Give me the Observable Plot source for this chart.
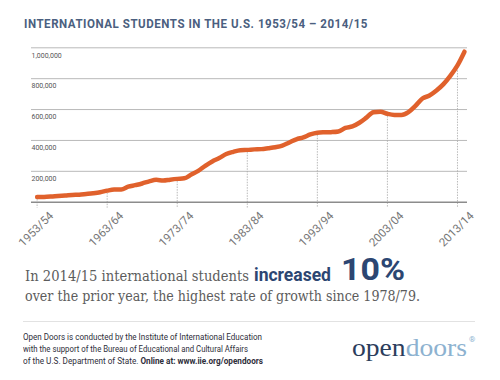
<!DOCTYPE html>
<html>
<head>
<meta charset="utf-8">
<script src="https://cdn.jsdelivr.net/npm/d3@7"></script>
<script src="https://cdn.jsdelivr.net/npm/@observablehq/plot@0.6"></script>
<style>
  html, body { margin: 0; padding: 0; background: #fff; }
  #page { position: relative; width: 500px; height: 380px; overflow: hidden; background: #fff; }
  .t { position: absolute; white-space: nowrap; transform-origin: 0 0; margin: 0; }
  #chart { position: absolute; left: 0; top: 30px; }
</style>
</head>
<body>
<div id="page">
  <div class="t" id="title" data-w="344" style="left:24px; top:17.4px; font:700 13px/13px Roboto, sans-serif; color:#4b5f80; letter-spacing:0.6px;">INTERNATIONAL STUDENTS IN THE U.S. 1953/54 – 2014/15</div>
  <div id="chart"></div>
  <div class="t" data-w="224" style="left:25px; top:269.4px; font:400 15px/15px 'DejaVu Serif', serif; color:#5c5c5c;">In 2014/15 international students</div>
  <div class="t" data-w="77" style="left:254px; top:266.4px; font:700 18px/18px Roboto, sans-serif; color:#2c4672;">increased</div>
  <div class="t" data-w="64" style="left:341px; top:253.1px; font:700 32px/32px Roboto, sans-serif; color:#2c4672;">10%</div>
  <div class="t" data-w="395" style="left:25px; top:289.4px; font:400 15px/15px 'DejaVu Serif', serif; color:#5c5c5c;">over the prior year, the highest rate of growth since 1978/79.</div>
  <div style="position:absolute; left:23px; top:321px; width:452px; height:1px; background:#e2e2e2;"></div>
  <div class="t" data-w="239" style="left:23px; top:333.4px; font:400 8.5px/8.5px Roboto, sans-serif; color:#2e2e3a;">Open Doors is conducted by the Institute of International Education</div>
  <div class="t" data-w="225" style="left:23px; top:345.4px; font:400 8.5px/8.5px Roboto, sans-serif; color:#2e2e3a;">with the support of the Bureau of Educational and Cultural Affairs</div>
  <div class="t" data-w="240" style="left:23px; top:357.4px; font:400 8.5px/8.5px Roboto, sans-serif; color:#2e2e3a;">of the U.S. Department of State. <b>Online at: www.iie.org/opendoors</b></div>
  <div class="t" data-w="115" style="left:352px; top:335.2px; font:400 26px/26px 'Liberation Serif', serif; color:#2b3d5c;">open<span style="color:#8db2d0;">doors</span></div>
  <div class="t" style="left:469px; top:336px; font:400 8px/8px Roboto, sans-serif; color:#8db2d0;">®</div>
</div>
<script>
// Academic years (start year) and enrollment counts
const startYears = [1953,1954,1955,1956,1957,1958,1959,1960,1961,1962,1963,1964,1965,1966,1967,1968,1969,1970,1971,1972,1973,1974,1975,1976,1977,1978,1979,1980,1981,1982,1983,1984,1985,1986,1987,1988,1989,1990,1991,1992,1993,1994,1995,1996,1997,1998,1999,2000,2001,2002,2003,2004,2005,2006,2007,2008,2009,2010,2011,2012,2013,2014];
const students = [34232,34232,36494,40666,43391,47245,48486,53107,58086,64705,74814,82045,82709,100262,110315,121362,134959,144708,140126,146097,151066,154580,179344,203068,235509,263938,286343,311882,326299,336985,338894,342113,343777,349609,356187,366354,386851,407529,419585,438618,449749,452635,453787,457984,481280,490933,514723,547867,582996,586323,572509,565039,564766,582984,623805,671616,690923,723277,764495,819644,886052,974926];
const tickYears = [1953,1963,1973,1983,1993,2003,2013];
const tickLabels = ["1953/54","1963/64","1973/74","1983/84","1993/94","2003/04","2013/14"];
const gridValues = [200000,400000,600000,800000,1000000];
const gridLabels = ["200,000","400,000","600,000","800,000","1,000,000"];

const data = startYears.map((y, i) => ({year: y, value: students[i]}));
const valueByYear = new Map(data.map(d => [d.year, d.value]));
const ticks = tickYears.map((y, i) => ({year: y, label: tickLabels[i], value: valueByYear.get(y)}));
const grid = gridValues.map((v, i) => ({value: v, label: gridLabels[i]}));

const chart = Plot.plot({
  width: 500,
  height: 220,
  marginLeft: 31,
  marginRight: 33,
  marginTop: 17.3,
  marginBottom: 48.3,
  x: {domain: [1952.2, 2014.43], axis: null},
  y: {domain: [0, 1000000], axis: null},
  style: {background: "transparent", overflow: "visible"},
  marks: [
    Plot.ruleY(grid, {y: "value", stroke: "#b9b9b9", strokeWidth: 1}),
    Plot.ruleX(ticks, {x: "year", y1: "value", y2: 0, insetBottom: -6, stroke: "#a8a8a8", strokeWidth: 0.8, strokeDasharray: "1.5,1.2"}),
    Plot.ruleY([0], {stroke: "#8c8c8c", strokeWidth: 1.6}),
    Plot.text(grid, {y: "value", text: "label", frameAnchor: "left", textAnchor: "start", dy: 7.5, fontSize: 7, fill: "#555", fontFamily: "Roboto, sans-serif"}),
    Plot.text(ticks, {x: "year", y: 0, text: "label", rotate: -45, textAnchor: "middle", lineAnchor: "middle", dy: 27, dx: -1, fontSize: 11.5, fill: "#767676", fontFamily: "Roboto, sans-serif"}),
    Plot.line(data, {x: "year", y: "value", stroke: "#e0612c", strokeWidth: 4.5, curve: "monotone-x", strokeLinecap: "round", strokeLinejoin: "round"})
  ]
});
document.getElementById("chart").appendChild(chart);

// condense texts horizontally to the reference widths
document.querySelectorAll(".t[data-w]").forEach(el => {
  const target = +el.dataset.w;
  const w = el.getBoundingClientRect().width;
  if (w > 0) el.style.transform = `scaleX(${target / w})`;
});
</script>
</body>
</html>
